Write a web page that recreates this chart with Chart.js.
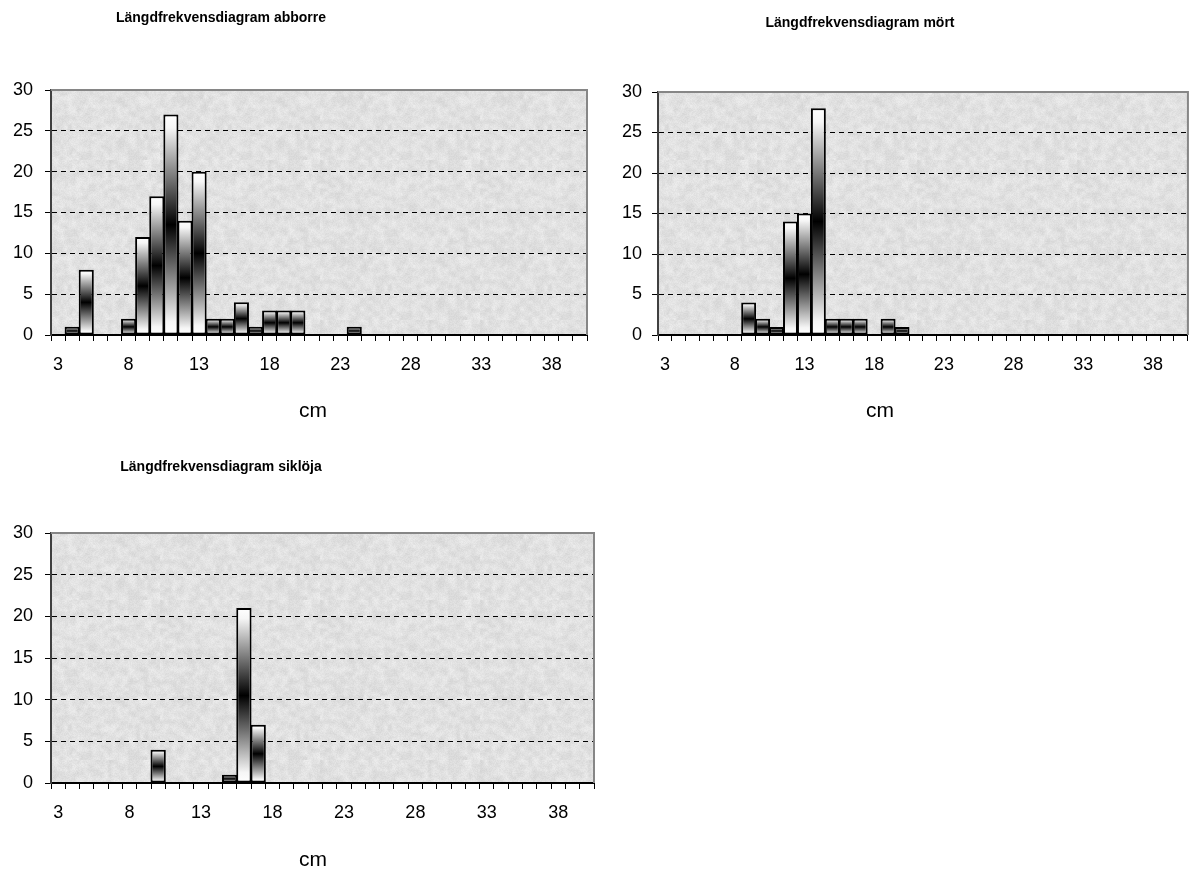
<!DOCTYPE html>
<html>
<head>
<meta charset="utf-8">
<script src="https://cdn.jsdelivr.net/npm/chart.js@4.4.1/dist/chart.umd.min.js"></script>
<style>
  body { margin: 0; background: #fff; width: 1194px; height: 872px; position: relative; overflow: hidden; }
  .box { position: absolute; }
</style>
</head>
<body>
<div class="box" style="left:0;top:0;width:597px;height:440px"><canvas id="abborre"></canvas></div>
<div class="box" style="left:597px;top:0;width:597px;height:440px"><canvas id="mort"></canvas></div>
<div class="box" style="left:0;top:440px;width:600px;height:432px"><canvas id="sikloja"></canvas></div>
<script>
// length classes (cm)
const lengthsCm = [3, 4, 5, 6, 7, 8, 9, 10, 11, 12, 13, 14, 15, 16, 17, 18, 19, 20, 21, 22,
                   23, 24, 25, 26, 27, 28, 29, 30, 31, 32, 33, 34, 35, 36, 37, 38, 39, 40];
const yTicks = [0, 5, 10, 15, 20, 25, 30];

// number of fish per length class
const abborre = [0, 1, 8, 0, 0, 2, 12, 17, 27, 14, 20, 2, 2, 4, 1, 3, 3, 3, 0, 0,
                 0, 1, 0, 0, 0, 0, 0, 0, 0, 0, 0, 0, 0, 0, 0, 0, 0, 0];
const mort    = [0, 0, 0, 0, 0, 0, 4, 2, 1, 14, 15, 28, 2, 2, 2, 0, 2, 1, 0, 0,
                 0, 0, 0, 0, 0, 0, 0, 0, 0, 0, 0, 0, 0, 0, 0, 0, 0, 0];
const sikloja = [0, 0, 0, 0, 0, 0, 0, 4, 0, 0, 0, 0, 1, 21, 7, 0, 0, 0, 0, 0,
                 0, 0, 0, 0, 0, 0, 0, 0, 0, 0, 0, 0, 0, 0, 0, 0, 0, 0];

const FONT = '"Liberation Sans", Arial, sans-serif';
Chart.defaults.font.family = FONT;
Chart.defaults.color = '#000';

// white - black - white fill along each bar
function barGradient(c) {
  if (c.type !== 'data') return '#fff';
  const y = c.chart.scales.y;
  const top = y.getPixelForValue(c.parsed.y);
  const base = y.getPixelForValue(0);
  if (!isFinite(top) || top === base) return '#fff';
  const g = c.chart.ctx.createLinearGradient(0, top, 0, base);
  g.addColorStop(0, '#ffffff');
  g.addColorStop(0.06, '#f6f6f6');
  g.addColorStop(0.5, '#000000');
  g.addColorStop(0.94, '#f6f6f6');
  g.addColorStop(1, '#ffffff');
  return g;
}

// soft grey "paper" texture for the plot area
function hash(x, y) {
  const h = Math.sin(x * 12.9898 + y * 78.233) * 43758.5453;
  return h - Math.floor(h);
}
function makeTexture() {
  const small = document.createElement('canvas');
  small.width = small.height = 40;
  const sg = small.getContext('2d');
  const sd = sg.createImageData(40, 40);
  for (let i = 0; i < 40 * 40; i++) {
    const v = 225 + (hash(i % 40, (i / 40) | 0) - 0.5) * 18;
    sd.data[i * 4] = sd.data[i * 4 + 1] = sd.data[i * 4 + 2] = v;
    sd.data[i * 4 + 3] = 255;
  }
  sg.putImageData(sd, 0, 0);

  const tex = document.createElement('canvas');
  tex.width = tex.height = 160;
  const tg = tex.getContext('2d');
  tg.imageSmoothingEnabled = true;
  tg.drawImage(small, 0, 0, 160, 160);
  const td = tg.getImageData(0, 0, 160, 160);
  for (let i = 0; i < 160 * 160; i++) {
    const d = (hash((i % 160) + 7.1, ((i / 160) | 0) + 3.3) - 0.5) * 10;
    td.data[i * 4] += d; td.data[i * 4 + 1] += d; td.data[i * 4 + 2] += d;
  }
  tg.putImageData(td, 0, 0);
  return tex;
}
const texture = makeTexture();

// grey plot background, grey top/right frame, chart title and axis caption
const plotFrame = {
  id: 'plotFrame',
  beforeDraw(chart) {
    const { ctx, chartArea: a } = chart;
    ctx.save();
    ctx.fillStyle = ctx.createPattern(texture, 'repeat');
    ctx.fillRect(a.left, a.top, a.width, a.height);
    ctx.restore();
  },
  afterDatasetsDraw(chart) {
    const { ctx, chartArea: a } = chart;
    ctx.save();
    ctx.strokeStyle = '#868686';
    ctx.lineWidth = 2;
    ctx.beginPath();
    ctx.moveTo(a.left, a.top);
    ctx.lineTo(a.right, a.top);
    ctx.lineTo(a.right, a.bottom);
    ctx.stroke();
    ctx.restore();
  },
  afterDraw(chart, args, opts) {
    const ctx = chart.ctx;
    ctx.save();
    ctx.fillStyle = '#000';
    ctx.textAlign = 'center';
    ctx.textBaseline = 'middle';
    ctx.font = 'bold 14px ' + FONT;
    ctx.fillText(opts.title.text, opts.title.x, opts.title.y);
    ctx.font = '21px ' + FONT;
    ctx.fillText(opts.axis.text, opts.axis.x, opts.axis.y);
    ctx.restore();
  }
};

function lengthChart(id, counts, o) {
  return new Chart(document.getElementById(id), {
    type: 'bar',
    data: {
      labels: lengthsCm,
      datasets: [{
        data: counts,
        backgroundColor: barGradient,
        borderColor: '#000',
        borderWidth: 2,
        borderSkipped: false,
        barPercentage: 1.07,
        categoryPercentage: 1
      }]
    },
    options: {
      responsive: true,
      maintainAspectRatio: false,
      animation: false,
      layout: { padding: o.padding },
      plugins: {
        legend: { display: false },
        tooltip: { enabled: false },
        plotFrame: { title: o.title, axis: o.axis }
      },
      scales: {
        x: {
          grid: { offset: true, drawOnChartArea: false, tickLength: 6, tickColor: '#000', tickWidth: 1 },
          border: { color: '#000', width: 2 },
          ticks: {
            autoSkip: false, maxRotation: 0, padding: 13, color: '#000',
            font: { size: 18 },
            callback: (v, i) => (i % 5 === 0 ? lengthsCm[i] : '')
          },
          afterFit: s => { s.height = 60; }
        },
        y: {
          min: yTicks[0],
          max: yTicks[yTicks.length - 1],
          afterBuildTicks: s => { s.ticks = yTicks.map(v => ({ value: v })); },
          ticks: { padding: o.yPad, color: '#000', font: { size: 18 } },
          grid: {
            color: c => (c.tick && (c.tick.value === 0 || c.tick.value === 30)) ? 'rgba(0,0,0,0)' : '#000',
            tickColor: '#000', tickLength: 6, lineWidth: 1
          },
          border: { color: '#404040', width: 2, dash: [5, 4] },
          afterFit: s => { s.width = o.yWidth; }
        }
      }
    },
    plugins: [plotFrame]
  });
}

lengthChart('abborre', abborre, {
  padding: { top: 90, left: 0, right: 10, bottom: 45 },
  yWidth: 51, yPad: 12,
  title: { text: 'Längdfrekvensdiagram abborre', x: 221, y: 18 },
  axis: { text: 'cm', x: 313, y: 411 }
});

lengthChart('mort', mort, {
  padding: { top: 92, left: 0, right: 3, bottom: 45 },
  yWidth: 61, yPad: 10,
  title: { text: 'Längdfrekvensdiagram mört', x: 263, y: 23 },
  axis: { text: 'cm', x: 283, y: 411 }
});

lengthChart('sikloja', sikloja, {
  padding: { top: 93, left: 0, right: 6, bottom: 29 },
  yWidth: 51, yPad: 12,
  title: { text: 'Längdfrekvensdiagram siklöja', x: 221, y: 27 },
  axis: { text: 'cm', x: 313, y: 420 }
});
</script>
</body>
</html>
